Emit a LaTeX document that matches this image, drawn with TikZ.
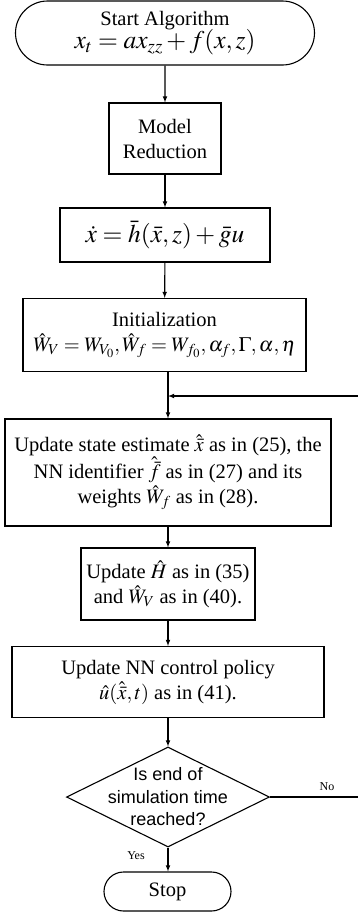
\documentclass[tikz,border=0pt]{standalone}
\usepackage{mathptmx}
\usepackage[no-math]{fontspec}
\setmainfont{Liberation Serif}
\newfontfamily\arialfont{Liberation Sans}
\usepackage{tikz}
\usetikzlibrary{shapes.geometric,shapes.misc}

\tikzset{
  block/.style={draw, line width=1.1pt, align=center, inner sep=2pt,
    font=\fontsize{20.5}{25}\selectfont},
  term/.style={block, rounded rectangle},
  decision/.style={draw, line width=1.1pt, diamond, inner sep=0pt},
  flow/.style={line width=1.1pt, ->},
  tag/.style={font=\fontsize{12}{14}\selectfont}
}
\newcommand{\bigeq}{\fontsize{25.5}{27}\selectfont}

\begin{document}
\begin{tikzpicture}[x=1pt, y=-1pt, >=latex]
        \useasboundingbox (0,0) rectangle (357,914);
        % Các khối
        \node[term, minimum width=303pt, minimum height=64pt] (start) at (165,33)
          {Start Algorithm\\[-2pt] {\bigeq $x_t = ax_{zz} + f(x,z)$}};
        \node[block, minimum width=112pt, minimum height=71pt] (model) at (165,138.5)
          {Model\\ Reduction};
        \node[block, minimum width=210pt, minimum height=54pt] (eq) at (165,235)
          {\bigeq $\dot{x} = \bar{h}(\bar{x},z) + \bar{g}u$};
        \node[block, minimum width=283pt, minimum height=73pt] (init) at (164.5,335)
          {Initialization\\ $\hat{W}_V = W_{V_0}, \hat{W}_f = W_{f_0}, \alpha_f, \Gamma, \alpha, \eta$};
        \node[block, minimum width=326pt, minimum height=107pt] (upd) at (168,472.5)
          {Update state estimate $\hat{\bar{x}}$ as in (25), the\\
           NN identifier $\hat{\bar{f}}$ as in (27) and its\\
           weights $\hat{W}_f$ as in (28).};
        \node[block, minimum width=174pt, minimum height=72pt] (ham) at (168,584)
          {Update $\hat{H}$ as in (35)\\ and $\hat{W}_V$ as in (40).};
        \node[block, minimum width=312pt, minimum height=71pt] (pol) at (168,682)
          {Update NN control policy\\ $\hat{u}(\hat{\bar{x}},t)$ as in (41).};
        % Khối quyết định
        \node[decision, minimum width=203pt, minimum height=100pt] (chk) at (168,797) {};
        \node[align=center, font=\arialfont\fontsize{18}{22.5}\selectfont] (chktxt) at (chk)
          {Is end of\\ simulation time\\ reached?};
        \node[term, minimum width=131pt, minimum height=39pt] (stop) at (167.5,891.5) {Stop};
        % Các mũi tên
        \coordinate (mrg) at (168,396);
        \coordinate (rt) at (358.5,396);
        \draw[flow] (start) -- (model);
        \draw[flow] (model) -- (eq);
        \draw[flow] (eq) -- (init);
        \draw[line width=1.1pt] (init.south -| mrg) -- (mrg);
        \draw[flow] (mrg) -- (upd.north -| mrg);
        \draw[flow] (upd.south -| ham) -- (ham);
        \draw[flow] (ham) -- (pol.north -| ham);
        \draw[flow] (pol.south -| chk) -- (chk);
        \draw[flow] (chk) -- (stop.north -| chk);
        % Vòng lặp
        \draw[line width=1.1pt] (chk.east) -- (chk.east -| rt) -- (rt);
        \draw[flow] (rt) -- (mrg);
        % Nhãn
        \node[tag] (no) at (327,787) {No};
        \node[tag] (yes) at (136,856) {Yes};
    \end{tikzpicture}
\end{document}
